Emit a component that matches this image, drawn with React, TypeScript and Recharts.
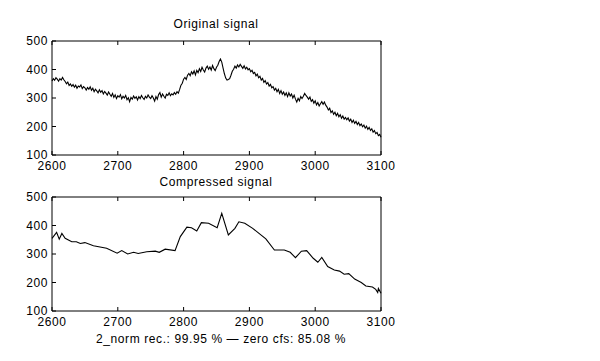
import React from 'react'
import { LineChart, Line, XAxis, YAxis } from 'recharts'

// x axis / y axis ticks shared by both panels
const xTicks = [2600, 2700, 2800, 2900, 3000, 3100]
const yTicks = [100, 200, 300, 400, 500]

// original signal, one sample every 2 units starting at 2600
const origStart = 2600
const origStep = 2
const origValues = [
  360, 368, 362, 371, 366, 359, 368, 363, 372, 364, 358, 350, 356, 344, 349,
  341, 347, 338, 345, 334, 342, 339, 346, 333, 340, 336, 328, 337, 331, 339,
  327, 334, 322, 331, 325, 318, 329, 320, 326, 314, 323, 317, 310, 321, 313,
  306, 316, 302, 311, 298, 308, 303, 312, 297, 306, 300, 309, 294, 301, 287,
  302, 296, 307, 299, 304, 293, 305, 298, 309, 301, 295, 306, 300, 311, 303,
  298, 308, 300, 289, 305, 296, 312, 319, 303, 314, 306, 300, 313, 309, 318,
  308, 315, 311, 319, 313, 322, 317, 330, 345, 352, 366, 372, 365, 380, 386,
  378, 392, 384, 395, 381, 397, 389, 403, 393, 408, 398, 391, 405, 412, 401,
  409, 398, 414, 403, 396, 408, 415, 428, 437, 426, 405, 385, 370, 363, 365,
  368, 380, 394, 401, 412, 405, 416, 409, 418, 411, 404, 413, 402, 408, 399,
  403, 392, 397, 386, 390, 378, 384, 371, 376, 363, 369, 355, 361, 349, 354,
  342, 348, 336, 340, 328, 334, 322, 330, 316, 326, 313, 321, 309, 318, 305,
  318, 307, 314, 300, 310, 296, 286, 299, 290, 305, 298, 306, 316, 309, 303,
  296, 303, 288, 294, 282, 290, 276, 284, 272, 280, 287, 278, 286, 275, 268,
  258, 264, 249, 255, 243, 250, 238, 246, 234, 241, 229, 237, 226, 232, 224,
  230, 219, 226, 214, 222, 211, 218, 207, 214, 203, 209, 199, 205, 194, 201,
  190, 197, 186, 192, 180, 186, 175, 179, 168, 172, 162,
]

// compressed signal breakpoints
const compX = [
  2600, 2607, 2611, 2615, 2620, 2630, 2637, 2643, 2650, 2663,
  2683, 2699, 2706, 2715, 2724, 2731, 2744, 2757, 2763, 2772,
  2787, 2795, 2805, 2812, 2820, 2827, 2838, 2851, 2858, 2868,
  2878, 2884, 2893, 2905, 2925, 2938, 2953, 2962, 2970, 2979,
  2987, 2997, 3004, 3010, 3019, 3029, 3037, 3044, 3051, 3060,
  3070, 3077, 3087, 3092, 3095, 3096, 3100,
]
const compY = [
  355, 376, 352, 372, 355, 343, 343, 337, 340, 329,
  320, 303, 312, 300, 306, 302, 308, 310, 306, 317,
  312, 361, 394, 392, 381, 410, 408, 392, 443, 367,
  390, 413, 408, 390, 353, 314, 314, 306, 287, 310,
  312, 285, 271, 288, 256, 244, 240, 229, 231, 212,
  200, 188, 184, 176, 165, 179, 162,
]

const origData = origValues.map((v, i) => ({ x: origStart + i * origStep, v }))
const compData = compX.map((x, i) => ({ x, v: compY[i] }))

const FONT = '"Liberation Sans", Arial, Helvetica, sans-serif'
const txt = { fontFamily: FONT, fontSize: 12, letterSpacing: 0.6, fill: '#000' }

const BottomTick = (p: any) => (
  <g>
    <line x1={p.x} y1={p.y} x2={p.x} y2={p.y - 4} stroke="#000" />
    <text x={p.x} y={p.y + 15} textAnchor="middle" style={txt}>{p.payload.value}</text>
  </g>
)
const LeftTick = (p: any) => (
  <g>
    <line x1={p.x} y1={p.y} x2={p.x + 4} y2={p.y} stroke="#000" />
    <text x={p.x - 4} y={p.y + 4} textAnchor="end" style={txt}>{p.payload.value}</text>
  </g>
)
const TopTick = (p: any) => <line x1={p.x} y1={p.y} x2={p.x} y2={p.y + 4} stroke="#000" />
const RightTick = (p: any) => <line x1={p.x} y1={p.y} x2={p.x - 4} y2={p.y} stroke="#000" />

function Panel({ data, top }: { data: { x: number; v: number }[]; top: number }) {
  return (
    <div style={{ position: 'absolute', left: 0, top: 0 }}>
      <LineChart width={600} height={top + 134} data={data}
        margin={{ top: top - 1, right: 218, left: 12, bottom: 0 }}>
        <XAxis dataKey="x" type="number" domain={[2600, 3100]} ticks={xTicks}
          height={20} tickSize={0} tickMargin={0} tickLine={false}
          axisLine={{ stroke: '#000' }} tick={<BottomTick />} interval={0} />
        <XAxis xAxisId="top" orientation="top" dataKey="x" type="number" domain={[2600, 3100]}
          ticks={xTicks} height={1} tickSize={0} tickMargin={0} tickLine={false}
          axisLine={{ stroke: '#000' }} tick={<TopTick />} interval={0} />
        <YAxis type="number" domain={[100, 500]} ticks={yTicks} width={40}
          tickSize={0} tickMargin={0} tickLine={false} axisLine={{ stroke: '#000' }}
          tick={<LeftTick />} interval={0} />
        <YAxis yAxisId="right" orientation="right" type="number" domain={[100, 500]}
          ticks={yTicks} width={1} tickSize={0} tickMargin={0} tickLine={false}
          axisLine={{ stroke: '#000' }} tick={<RightTick />} interval={0} />
        <Line dataKey="v" type="linear" stroke="#000" strokeWidth={1.1} dot={false}
          isAnimationActive={false} />
      </LineChart>
    </div>
  )
}

export default function App() {
  return (
    <div style={{ position: 'fixed', left: 0, top: 0, width: 600, height: 361, background: '#fff' }}>
      <Panel data={origData} top={41} />
      <Panel data={compData} top={197} />
      <svg width={600} height={361} style={{ position: 'absolute', left: 0, top: 0, pointerEvents: 'none' }}>
        <text x={216} y={28} textAnchor="middle" style={txt}>Original signal</text>
        <text x={216} y={186} textAnchor="middle" style={txt}>Compressed signal</text>
        <text x={221} y={343} textAnchor="middle" style={txt}>2_norm rec.: 99.95 %  —  zero cfs: 85.08 %</text>
      </svg>
    </div>
  )
}
